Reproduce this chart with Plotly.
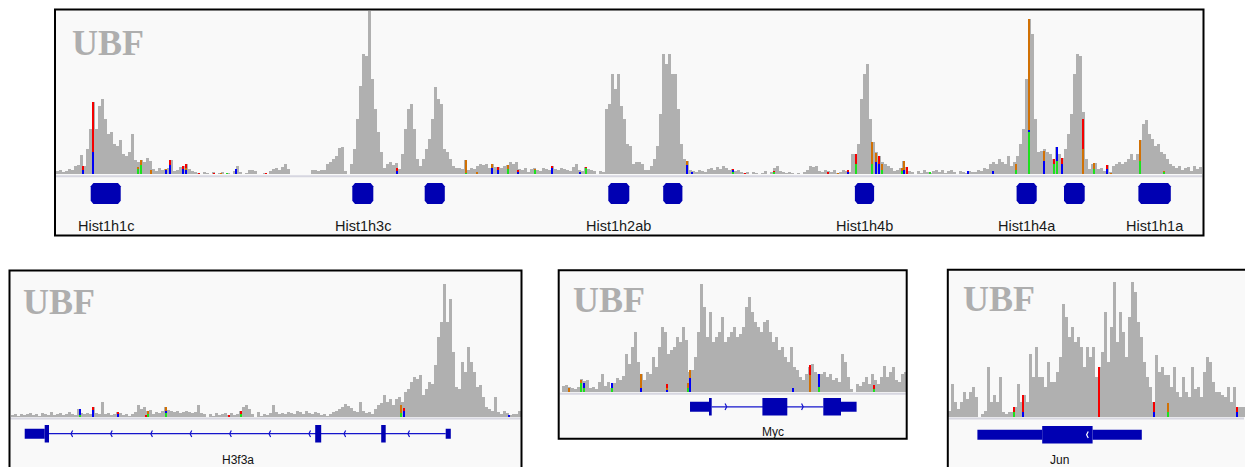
import plotly.graph_objects as go

W, H = 1245, 467

# ---------------------------------------------------------------------------
# Coverage (UBF ChIP-seq read depth, one value per genomic bin)
# ---------------------------------------------------------------------------
hist_cov = [
    3, 4, 2, 3, 5, 4, 8, 9, 19, 8, 25,
    45, 72, 45, 68, 75, 55, 40, 42, 30, 28, 34, 20, 18, 22, 40, 14, 12,
    14, 12, 16, 13, 5, 3, 6, 4, 5, 6, 14, 3, 4, 7, 8, 10, 5, 3,
    2, 1, 0, 2, 1, 0, 2, 0, 1, 2, 0, 1, 0, 3, 8, 2, 0, 1, 4, 4, 3, 0, 0, 1, 0, 3, 5, 6, 4, 7, 10, 5,
    0, 0, 0, 0, 0, 0, 0,
    4, 4, 3, 4, 4, 10,
    12, 15, 18, 26, 27, 3, 0,
    10, 25, 55, 88, 120, 118, 163, 95, 65, 42, 22, 6, 10, 12,
    9, 11, 5, 20,
    45, 65, 70, 45, 15,
    8, 15, 25, 35, 55, 87, 75, 70,
    25, 22, 15, 8, 6,
    6, 5, 14, 4, 6, 5, 8, 10, 9, 10, 6, 10, 7, 7, 6, 8, 9,
    12, 10, 12, 5, 4, 6, 2,
    5, 6, 4, 3, 6, 5, 4, 8, 5, 4, 6, 5, 4, 3, 7, 10, 4, 3, 7, 5, 4, 3, 0, 3, 2,
    65, 70, 100, 85, 100, 68, 55, 30, 28, 10, 12, 12, 10, 4, 4,
    8, 15, 28, 60, 120, 110, 120, 100, 100, 65, 30, 15, 13, 4,
    3, 2, 4, 3, 2, 5, 6, 4, 7, 5, 8, 6, 4, 5, 3, 4, 2, 1, 2, 0, 2, 1, 0, 1, 3, 0, 2, 6, 8, 3,
    2, 1, 2, 1, 0, 1, 0, 2, 4, 8, 7, 8, 3, 2, 4,
    3, 2, 4, 1, 2, 4, 3, 2,
    20, 20, 30, 75, 100, 110, 55, 32, 22, 18, 12, 10,
    8, 6, 3, 4, 6, 13, 7, 3, 2, 0, 3, 1, 4, 2, 1, 3, 4, 2, 4, 1, 3, 4, 2, 0, 3, 2, 1, 3, 2,
    2, 4, 3, 6, 5, 10, 12, 10, 15, 12, 10, 18, 8,
    12, 18, 30, 45, 95, 155, 140, 55, 22,
    23, 25, 22, 20, 15, 27, 20, 16,
    25, 40, 60, 100, 120, 118, 62, 15, 5, 10,
    11, 5, 6, 3, 9, 2, 8, 10, 12, 10, 12, 15, 20, 14, 20, 34, 50, 54, 40, 35,
    28, 30, 22, 20, 15, 10, 8, 6, 8, 4, 6, 7, 3, 8, 5, 7,
]

h3f3a_cov = [
    2, 3, 1, 3, 2, 3, 4, 2, 3, 1,
    4, 3, 2, 5, 2, 3, 4, 2, 3, 5,
    3, 2, 8, 4, 3, 4, 3, 10, 4, 3,
    15, 3, 4, 2, 3, 5, 4, 2, 3, 1,
    3, 5, 12, 8, 10, 6, 7, 3, 5, 4,
    6, 10, 7, 6, 5, 6, 4, 5, 6, 5,
    4, 5, 12, 4, 3, 0, 3, 1, 4, 2,
    3, 4, 2, 4, 2, 3, 6, 10, 12, 8,
    3, 0, 5, 1, 3, 2, 4, 12, 5, 3,
    4, 3, 5, 4, 3, 6, 5, 3, 6, 4,
    3, 5, 4, 2, 3, 1, 3, 5, 6, 8,
    10, 13, 11, 9, 6, 5, 15, 6, 4, 5,
    3, 8, 12, 14, 22, 15, 18, 12, 18, 20,
    15, 25, 28, 35, 40, 38, 42, 22, 28, 35,
    33, 52, 80, 95, 133, 95, 118, 65, 30, 28,
    55, 45, 70, 55, 45, 30, 32, 20, 10, 8,
    6, 20, 5, 3, 6, 4, 2, 3, 3, 6,
]

myc_cov = [
    6, 7, 5, 4, 3, 5, 13, 11, 12, 4,
    5, 3, 10, 18, 6, 10, 4, 9, 14, 12,
    16, 38, 28, 45, 60, 30, 18, 12, 20, 18,
    35, 25, 45, 65, 60, 38, 42, 45, 55, 50,
    65, 52, 20, 22, 35, 60, 108, 85, 55, 80,
    50, 55, 60, 75, 50, 55, 60, 65, 55, 58,
    65, 85, 95, 80, 70, 65, 60, 70, 72, 60,
    50, 55, 42, 45, 35, 30, 45, 25, 22, 15,
    12, 18, 25, 28, 20, 18, 18, 20, 15, 18,
    12, 14, 10, 38, 30, 15, 3, 0, 8, 6,
    10, 15, 8, 18, 12, 8, 15, 26, 15, 20,
    25, 12, 10, 18, 20,
]

jun_cov = [
    6, 33, 15, 8, 15, 25, 18, 25, 30, 20,
    0, 3, 6, 50, 15, 22, 15, 40, 5, 3,
    5, 5, 10, 33, 15, 22, 15, 63, 40, 70,
    40, 40, 30, 55, 35, 35, 45, 60, 113, 100,
    80, 90, 75, 80, 70, 50, 70, 60, 70, 40,
    50, 65, 105, 55, 90, 135, 75, 105, 85, 60,
    100, 135, 125, 95, 80, 55, 40, 30, 15, 62,
    45, 50, 42, 42, 30, 50, 25, 20, 40, 25,
    20, 50, 28, 30, 20, 45, 60, 55, 35, 25,
    25, 22, 20, 30, 15, 30, 10, 10, 10,
]

# Mismatch columns: (bin position, A, C, G, T read counts)
hist_snv = [
    (9.0, 0, 4, 0, 4), (12.3, 0, 22, 0, 50), (27.4, 5, 0, 2, 0), (28.3, 9, 0, 5, 0),
    (31.6, 0, 0, 4, 0), (36.7, 0, 4, 1, 0), (38.1, 0, 9, 0, 5), (42.4, 0, 5, 0, 3),
    (43.4, 0, 4, 2, 4), (47.7, 0, 0, 0, 1), (52.7, 0, 0, 0, 1), (55.0, 0, 0, 1, 0),
    (57.0, 1, 0, 0, 0), (60.1, 0, 5, 0, 0), (69.9, 0, 0, 0, 1), (113.8, 0, 3, 0, 3),
    (136.7, 1, 0, 13, 0), (140.2, 0, 0, 2, 0), (145.4, 0, 6, 4, 0), (147.4, 0, 4, 0, 3),
    (150.8, 5, 0, 4, 0), (154.1, 0, 2, 0, 2), (159.7, 4, 0, 1, 0), (165.2, 0, 6, 0, 2),
    (174.7, 0, 2, 0, 0), (176.6, 6, 0, 0, 1), (210.2, 0, 9, 4, 0), (211.9, 0, 2, 0, 0),
    (225.8, 2, 2, 0, 1), (229.7, 0, 0, 0, 1), (239.4, 2, 0, 0, 1), (257.4, 0, 0, 0, 2),
    (260.8, 0, 0, 1, 0), (263.9, 0, 2, 0, 2), (266.6, 10, 0, 0, 10), (271.9, 10, 0, 22, 0),
    (273.2, 0, 12, 9, 0), (274.4, 0, 10, 0, 8), (275.4, 4, 0, 6, 0), (281.9, 3, 0, 3, 0),
    (282.8, 0, 4, 9, 0), (283.7, 0, 0, 0, 7), (291.4, 2, 0, 0, 0), (303.9, 0, 3, 0, 0),
    (312.4, 0, 3, 0, 0), (320.1, 4, 0, 6, 0), (324.3, 42, 2, 111, 0), (329.4, 0, 13, 10, 0),
    (332.7, 10, 0, 0, 5), (333.8, 13, 14, 0, 0), (335.2, 0, 10, 0, 6), (342.4, 0, 0, 25, 30),
    (346.1, 5, 0, 6, 0), (350.2, 0, 5, 0, 4), (351.7, 0, 0, 1, 0), (361.3, 13, 0, 21, 0),
    (369.4, 2, 0, 1, 0),
]

h3f3a_snv = [
    (22.9, 2, 6, 0, 0), (27.3, 0, 7, 0, 3), (35.7, 0, 3, 0, 2), (44.9, 0, 0, 0, 2),
    (45.7, 3, 0, 3, 0), (51.8, 4, 2, 4, 0), (72.7, 0, 0, 0, 2), (76.6, 3, 0, 0, 3),
    (130.1, 4, 0, 8, 0), (130.9, 0, 6, 0, 3), (166.0, 0, 2, 0, 0),
]

myc_snv = [
    (2.4, 0, 0, 4, 0), (6.3, 9, 0, 3, 0), (7.4, 4, 5, 0, 0), (16.8, 4, 5, 0, 0),
    (26.3, 0, 4, 14, 0), (35.0, 0, 2, 2, 4), (41.9, 4, 0, 5, 0), (42.8, 0, 14, 8, 0),
    (76.9, 0, 4, 0, 0), (82.8, 0, 0, 17, 10), (85.7, 5, 13, 0, 0), (104.0, 3, 0, 0, 4),
]

jun_snv = [
    (22.1, 5, 0, 0, 5), (24.9, 0, 5, 0, 17), (50.3, 0, 0, 0, 50),
    (68.6, 0, 5, 0, 10), (73.2, 5, 0, 9, 0), (96.2, 0, 5, 0, 5),
]

# Gene annotation (same bin coordinates as the coverage)
hist_gene_start = [11.57, 98.77, 122.9, 184.1, 202.4, 266.3, 320.2, 336.0, 360.8]
hist_gene_end = [21.57, 105.77, 129.6, 191.1, 208.8, 272.7, 326.9, 342.9, 371.6]
hist_gene_name = ["Hist1h1c", "Hist1h3c", "", "Hist1h2ab", "", "Hist1h4b", "Hist1h4a", "", "Hist1h1a"]

h3f3a_utr = [(4.57, 11.23), (144.9, 146.6)]
h3f3a_cds = [(11.23, 12.67), (101.4, 103.4), (123.4, 124.9)]
h3f3a_span = (12.67, 144.9)
h3f3a_arrows = [20.0, 33.2, 46.6, 59.7, 72.9, 86.0, 99.3, 111.0, 132.3]

myc_utr = [(42.67, 49.0), (93.0, 98.2)]
myc_cds = [(49.0, 49.9), (66.8, 75.1), (87.1, 93.0)]
myc_span = (49.9, 87.1)
myc_arrows = [54.9, 80.4]

jun_utr = [(9.8, 31.4), (48.2, 64.6)]
jun_cds = [(31.4, 48.2)]
jun_arrows = [46.2]

# ---------------------------------------------------------------------------
GRAY = "#B0B0B0"
BLUE = "#0000B2"
ALLELE_COLORS = ["#1EE01E", "#0000F5", "#D17105", "#F50000"]  # A, C, G, T
PANEL_BG = "#F9F9F9"
SEP = "#D6D6E0"


def xdom(left, right):
    return [left / W, min(right / W, 1.0)]


def ydom(top, bottom):
    return [max(1 - bottom / H, 0.0), 1 - top / H]


def px(v):
    return v / W


def py(v):
    return 1 - v / H


panels = [
    dict(cov=hist_cov, snv=hist_snv, x=(56, 1202), y=(11, 174), ymax=163,
         gene_c=193.5, sep=176.3, frame=(55, 9.5, 1203.5, 235.5), ubf=(70, 43)),
    dict(cov=h3f3a_cov, snv=h3f3a_snv, x=(11, 521), y=(284, 417), ymax=133,
         gene_c=433.7, sep=418.6, frame=(9.5, 270.5, 521.5, 490), ubf=(20.5, 301.5),
         utr=h3f3a_utr, cds=h3f3a_cds, span=h3f3a_span, arrows=h3f3a_arrows, strand="-",
         label="H3f3a", label_x=(238 - 11) / 3, label_y=459.5),
    dict(cov=myc_cov, snv=myc_snv, x=(562, 907), y=(284, 392), ymax=108,
         gene_c=406.8, sep=393.8, frame=(558.7, 270.3, 906.7, 438.7), ubf=(570.5, 300),
         utr=myc_utr, cds=myc_cds, span=myc_span, arrows=myc_arrows, strand="+",
         label="Myc", label_x=(773 - 562) / 3, label_y=431.5),
    dict(cov=jun_cov, snv=jun_snv, x=(948, 1245), y=(281, 417), ymax=136,
         gene_c=434.8, sep=418.6, frame=(947.8, 269.7, 1270, 490), ubf=(961, 298.5),
         utr=jun_utr, cds=jun_cds, span=None, arrows=jun_arrows, strand="-",
         arrow_color="#FFFFFF", label="Jun", label_x=(1059 - 948) / 3, label_y=459.5),
]

fig = go.Figure()
shapes = []
annotations = []
layout_axes = {}

for i, p in enumerate(panels):
    sfx = "" if i == 0 else str(i + 1)
    xa, ya, ga = "x" + sfx, "y" + sfx, "y" + str(i + 5)
    n = len(p["cov"])

    fig.add_trace(go.Bar(
        x=[k + 0.5 for k in range(n)], y=p["cov"], width=1,
        marker=dict(color=GRAY, line=dict(width=0)),
        xaxis=xa, yaxis=ya, hoverinfo="skip", showlegend=False))

    pos = [s[0] for s in p["snv"]]
    base = [0] * len(pos)
    for j, col in enumerate(ALLELE_COLORS):
        hts = [s[j + 1] for s in p["snv"]]
        fig.add_trace(go.Bar(
            x=pos, y=hts, base=list(base), width=0.7,
            marker=dict(color=col, line=dict(width=0)),
            xaxis=xa, yaxis=ya, hoverinfo="skip", showlegend=False))
        base = [b + v for b, v in zip(base, hts)]

    layout_axes["xaxis" + sfx] = dict(domain=xdom(*p["x"]), range=[0, n], visible=False,
                                      fixedrange=True, anchor=ya)
    layout_axes["yaxis" + sfx] = dict(domain=ydom(*p["y"]), range=[0, p["ymax"]],
                                      visible=False, fixedrange=True, anchor=xa)
    gc = p["gene_c"]
    layout_axes["yaxis" + str(i + 5)] = dict(domain=ydom(gc - 11, gc + 11), range=[-1, 1],
                                             visible=False, fixedrange=True, anchor=xa)

    fx0, fy0, fx1, fy1 = p["frame"]
    shapes.append(dict(type="rect", xref="paper", yref="paper", layer="below",
                       x0=px(fx0), x1=px(fx1), y0=py(fy1), y1=py(fy0),
                       fillcolor=PANEL_BG, line=dict(width=0)))
    shapes.append(dict(type="rect", xref="paper", yref="paper", layer="above",
                       x0=px(fx0), x1=px(fx1), y0=py(fy1), y1=py(fy0),
                       fillcolor="rgba(0,0,0,0)", line=dict(color="#000000", width=2)))
    shapes.append(dict(type="line", xref="paper", yref="paper", layer="below",
                       x0=px(fx0 + 1), x1=px(min(fx1, 1245) - 1), y0=py(p["sep"]), y1=py(p["sep"]),
                       line=dict(color=SEP, width=2)))

    ux, uy = p["ubf"]
    annotations.append(dict(text="<b>UBF</b>", xref="paper", yref="paper", x=px(ux), y=py(uy),
                            xanchor="left", yanchor="middle", showarrow=False,
                            font=dict(family="Liberation Serif", size=36, color="#AEAEAE")))

    if i == 0:
        hh, cx, cy = 0.95, 0.9, 0.28
        for s, e, name in zip(hist_gene_start, hist_gene_end, hist_gene_name):
            path = (f"M {s + cx},{-hh} L {e - cx},{-hh} L {e},{-hh + cy} L {e},{hh - cy} "
                    f"L {e - cx},{hh} L {s + cx},{hh} L {s},{hh - cy} L {s},{-hh + cy} Z")
            shapes.append(dict(type="path", xref=xa, yref=ga, path=path,
                               fillcolor=BLUE, line=dict(width=0), layer="above"))
            if name:
                annotations.append(dict(text=name, xref=xa, yref="paper", x=(s + e) / 2,
                                        y=py(226), xanchor="center", yanchor="middle",
                                        showarrow=False,
                                        font=dict(family="Liberation Sans", size=14.5,
                                                  color="#1A1A1A")))
        continue

    # intron line
    if p.get("span"):
        s, e = p["span"]
        shapes.append(dict(type="line", xref=xa, yref=ga, x0=s, x1=e, y0=0, y1=0,
                           line=dict(color="#1515CC", width=1.2), layer="above"))
    for s, e in p["utr"]:
        shapes.append(dict(type="rect", xref=xa, yref=ga, x0=s, x1=e, y0=-0.45, y1=0.45,
                           fillcolor=BLUE, line=dict(width=0), layer="above"))
    for s, e in p["cds"]:
        shapes.append(dict(type="rect", xref=xa, yref=ga, x0=s, x1=e, y0=-0.8, y1=0.8,
                           fillcolor=BLUE, line=dict(width=0), layer="above"))
    acol = p.get("arrow_color", "#1515CC")
    d = 0.55 if p["strand"] == "-" else -0.55
    for a in p["arrows"]:
        shapes.append(dict(type="path", xref=xa, yref=ga,
                           path=f"M {a + d},0.3 L {a},0 L {a + d},-0.3",
                           line=dict(color=acol, width=1.2), layer="above"))
    annotations.append(dict(text=p["label"], xref=xa, yref="paper", x=p["label_x"],
                            y=py(p["label_y"]), xanchor="center", yanchor="middle",
                            showarrow=False,
                            font=dict(family="Liberation Sans", size=12, color="#111111")))

fig.update_layout(
    width=W, height=H, margin=dict(l=0, r=0, t=0, b=0),
    paper_bgcolor="#FFFFFF", plot_bgcolor="rgba(0,0,0,0)",
    barmode="overlay", bargap=0, showlegend=False,
    shapes=shapes, annotations=annotations, **layout_axes,
)

fig.write_html("out.html")
